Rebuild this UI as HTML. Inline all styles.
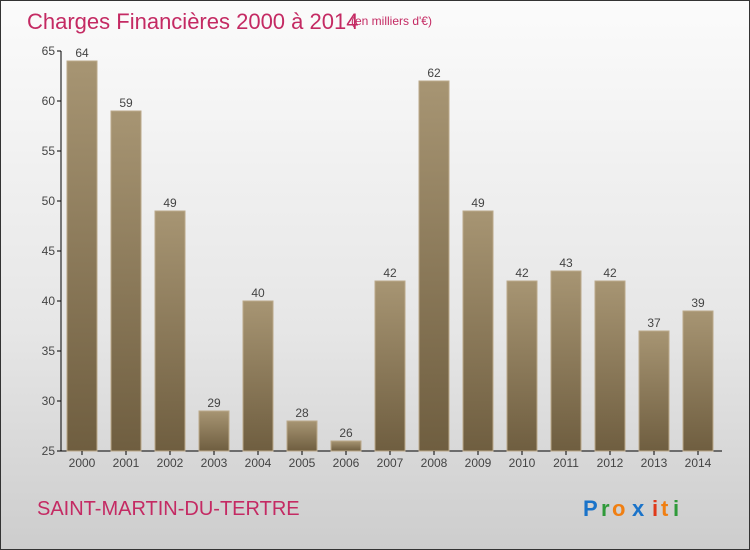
<!DOCTYPE html>
<html><head><meta charset="utf-8"><style>
body{margin:0}
#wrap{width:748px;height:548px;border:1px solid #333;background:linear-gradient(#fbfbfb,#e6e6e6 60%,#cdcdcd);position:relative;font-family:"Liberation Sans",sans-serif;overflow:hidden}
</style></head><body>
<div id="wrap">
<svg width="748" height="548" id="svg">
<defs><linearGradient id="bg" x1="0" y1="0" x2="0" y2="1"><stop offset="0" stop-color="#a79573"/><stop offset="1" stop-color="#6f5e40"/></linearGradient></defs>
<text x="26" y="28" font-size="22" fill="#c42a63">Charges Financières 2000 à 2014</text>
<text x="350" y="24" font-size="12" fill="#c42a63">(en milliers d'€)</text>
<text x="36" y="514" font-size="20" fill="#c42a63">SAINT-MARTIN-DU-TERTRE</text>
<g font-size="22" font-weight="bold"><text x="582" y="515" fill="#1a73c9">P</text><text x="600" y="515" fill="#2f9a3a">r</text><text x="611" y="515" fill="#f07f12">o</text><text x="631" y="515" fill="#1a73c9">x</text><text x="651" y="515" fill="#e03a1a">i</text><text x="660" y="515" fill="#f07f12">t</text><text x="672" y="515" fill="#2f9a3a">i</text></g>
<g id="g"></g>
</svg></div>
<script>
const categories=["2000","2001","2002","2003","2004","2005","2006","2007","2008","2009","2010","2011","2012","2013","2014"];
const values=[64,59,49,29,40,28,26,42,62,49,42,43,42,37,39];
const ticks=[25,30,35,40,45,50,55,60,65];
const NS="http://www.w3.org/2000/svg",g=document.getElementById("g");
const y=v=>450-(v-25)*10, x=i=>81+i*44;
function mk(t,a,txt){const e=document.createElementNS(NS,t);for(const k in a)e.setAttribute(k,a[k]);if(txt!=null)e.textContent=txt;g.appendChild(e);return e;}
let e=mk("line",{x1:60,y1:50,x2:60,y2:450,stroke:"#000"});


e=mk("line",{x1:60,y1:450,x2:721,y2:450,stroke:"#000"});


ticks.forEach(t=>{
 e=mk("line",{x1:56,x2:60,y1:y(t),y2:y(t),stroke:"#000"});
 
 
 e=mk("text",{x:54,y:y(t)+4,"font-size":12,fill:"#444","text-anchor":"end"},t);
 
 
});
categories.forEach((c,i)=>{
 const v=values[i];
 e=mk("rect",{x:x(i)-15,y:y(v),width:30,height:450-y(v),fill:"url(#bg)",stroke:"#bba98a","stroke-width":1});
 
 
 e=mk("text",{x:x(i),y:y(v)-4,"font-size":12,fill:"#444","text-anchor":"middle"},v);
 
 
 e=mk("line",{x1:x(i),x2:x(i),y1:450,y2:454,stroke:"#000"});
 
 
 e=mk("text",{x:x(i),y:466,"font-size":12,fill:"#444","text-anchor":"middle"},c);
 
 
});
</script>
</body></html>
